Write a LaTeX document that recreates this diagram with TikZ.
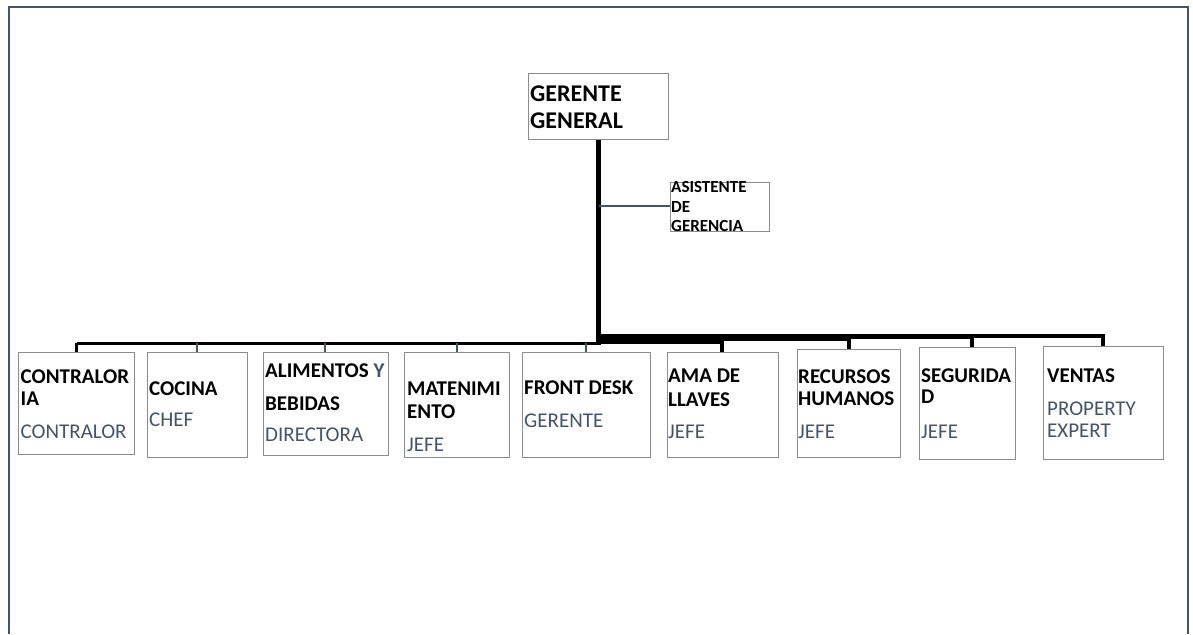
\documentclass[tikz,border=0pt]{standalone}
\usepackage{fontspec}
\setmainfont{Carlito}
\definecolor{slate}{HTML}{44546A}
\definecolor{boxgray}{HTML}{8C8C8C}
\newcommand\tl[5]{\node[#4,anchor=base west,inner sep=0pt] (#1) at (#2,#3) {#5};}
\begin{document}
\begin{tikzpicture}[x=1pt,y=-1pt,
  bx/.style={draw=boxgray,line width=1.3pt,fill=white},
  bt/.style={font=\fontsize{21}{23}\selectfont\bfseries,text=black},
  st/.style={font=\fontsize{21}{23}\selectfont,text=slate},
  gt/.style={font=\fontsize{24}{27}\selectfont\bfseries,text=black},
  astxt/.style={font=\fontsize{17}{19}\selectfont\bfseries,text=black},
  thinc/.style={draw=slate,line width=2pt},
  thickc/.style={draw=black,line width=3.8pt}]
\useasboundingbox (0,0) rectangle (1193,634);
\fill[white] (0,0) rectangle (1193,634);
% frame
\draw[slate,line width=2.5pt] (9,634) -- (9,7) -- (1188,7) -- (1188,634);

% boxes
\node[bx,minimum width=140pt,minimum height=66pt,anchor=north west] (gg) at (528,73) {};
\node[bx,minimum width=99pt,minimum height=49pt,anchor=north west] (asis) at (670,182) {};
\node[bx,minimum width=116pt,minimum height=102pt,anchor=north west] (b1) at (18,352) {};
\node[bx,minimum width=100pt,minimum height=105pt,anchor=north west] (b2) at (147,352) {};
\node[bx,minimum width=125pt,minimum height=103pt,anchor=north west] (b3) at (263,352) {};
\node[bx,minimum width=105pt,minimum height=105pt,anchor=north west] (b4) at (404,352) {};
\node[bx,minimum width=128pt,minimum height=105pt,anchor=north west] (b5) at (522,352) {};
\node[bx,minimum width=111pt,minimum height=105pt,anchor=north west] (b6) at (667,352) {};
\node[bx,minimum width=103pt,minimum height=108pt,anchor=north west] (b7) at (797,349) {};
\node[bx,minimum width=96pt,minimum height=112pt,anchor=north west] (b8) at (919,347) {};
\node[bx,minimum width=120pt,minimum height=113pt,anchor=north west] (b9) at (1043,346) {};

% connectors
\coordinate (tb) at (598.5,345);
\coordinate (ta) at (598.5,206);
\coordinate (lbl) at (76.5,343.3);
\draw[black,line width=4.5pt] (gg.south -| tb) -- (tb);
\draw[thinc] (ta) -- (asis.west |- ta);
% left bus
\draw[black,line width=3.5pt] (lbl) -- (600,343.3);
\draw[thickc,line width=3pt] (lbl) -- (b1.north -| lbl);
\draw[thinc] (197,343) -- (197,0 |- b2.north);
\draw[thinc] (325,343) -- (325,0 |- b3.north);
\draw[thinc] (457,343) -- (457,0 |- b4.north);
\draw[thinc] (586,343) -- (586,0 |- b5.north);
% right bus
\fill[black] (596.5,334) rectangle (722,344);
\fill[black] (722,334) rectangle (849,341);
\fill[black] (849,334) rectangle (972,339);
\fill[black] (972,334) rectangle (1105.3,337.5);
\draw[thickc] (722,338) -- (722,0 |- b6.north);
\draw[thickc] (849,338) -- (849,0 |- b7.north);
\draw[thickc] (972,336) -- (972,0 |- b8.north);
\draw[thickc] (1103.3,336) -- (1103.3,0 |- b9.north);

% texts
\tl{g1}{530}{101}{gt}{GERENTE}
\tl{g2}{530}{128}{gt}{GENERAL}
\tl{a1}{671}{192}{astxt}{ASISTENTE}
\tl{a2}{671}{212}{astxt}{DE}
\tl{a3}{671}{231}{astxt}{GERENCIA}

\tl{t1a}{20.5}{383}{bt}{CONTRALOR}
\tl{t1b}{20.5}{405}{bt}{IA}
\tl{t1c}{20.5}{438}{st}{CONTRALOR}

\tl{t2a}{149}{395}{bt}{COCINA}
\tl{t2c}{149}{426}{st}{CHEF}

\tl{t3a}{265}{377}{bt}{ALIMENTOS \textcolor{slate}{Y}}
\tl{t3b}{265}{410}{bt}{BEBIDAS}
\tl{t3c}{265}{441}{st}{DIRECTORA}

\tl{t4a}{407}{395}{bt}{MATENIMI}
\tl{t4b}{407}{418}{bt}{ENTO}
\tl{t4c}{407}{451}{st}{JEFE}

\tl{t5a}{524}{394}{bt}{FRONT DESK}
\tl{t5c}{524}{427}{st}{GERENTE}

\tl{t6a}{668}{382}{bt}{AMA DE}
\tl{t6b}{668}{406}{bt}{LLAVES}
\tl{t6c}{668}{438}{st}{JEFE}

\tl{t7a}{798}{383}{bt}{RECURSOS}
\tl{t7b}{798}{405}{bt}{HUMANOS}
\tl{t7c}{798}{438}{st}{JEFE}

\tl{t8a}{921}{382}{bt}{SEGURIDA}
\tl{t8b}{921}{403}{bt}{D}
\tl{t8c}{921}{438}{st}{JEFE}

\tl{t9a}{1047}{382}{bt}{VENTAS}
\tl{t9b}{1047}{415}{st}{PROPERTY}
\tl{t9c}{1047}{437}{st}{EXPERT}
\end{tikzpicture}
\end{document}
